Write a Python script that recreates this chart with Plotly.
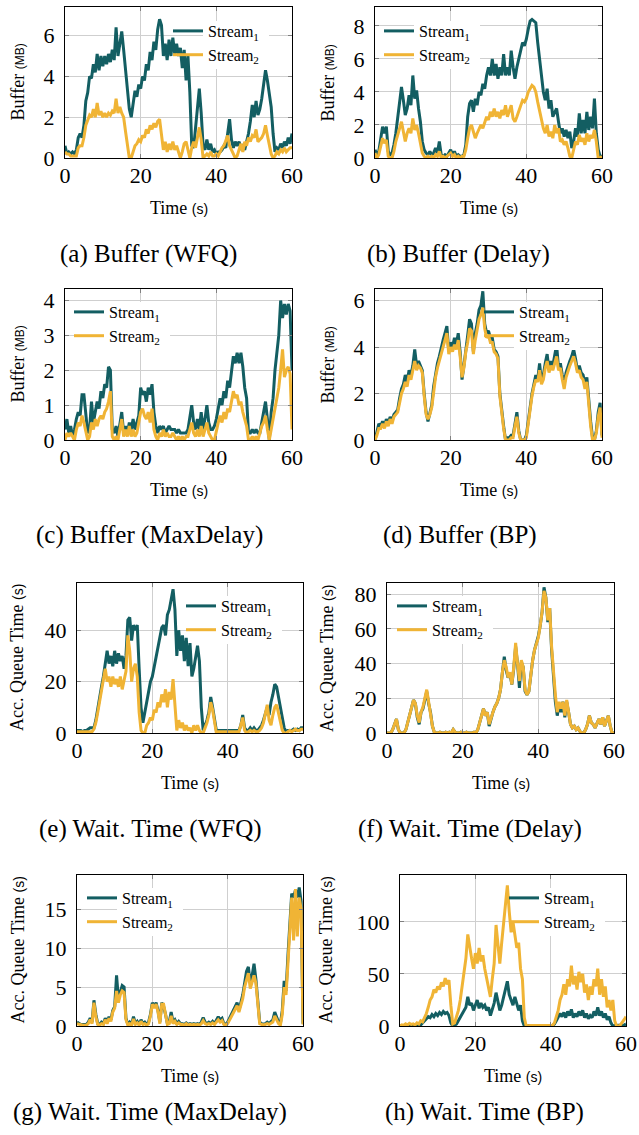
import plotly.graph_objects as go

# ---------------- data (time step 0.5 s, 0..60 s) ----------------
time = [i * 0.5 for i in range(121)]

wfq_buf_s1 = [0.6,0.2,0.3,0.2,0.3,0.2,0.4,1.0,1.2,1.0,
              1.6,2.8,3.2,4.0,3.9,4.6,4.2,5.1,4.3,5.0,
              4.5,5.0,4.6,5.1,4.7,5.3,4.8,6.4,5.0,5.6,
              6.2,5.3,4.2,3.4,2.4,2.0,2.6,3.3,3.0,3.6,
              3.4,4.0,3.8,4.6,4.3,5.2,4.8,5.7,5.3,6.3,
              6.8,6.5,5.0,5.6,4.8,5.8,5.0,5.9,5.1,5.6,
              5.0,5.4,4.4,5.3,3.8,5.0,3.2,0.6,0.5,1.5,
              2.5,3.4,2.2,0.6,0.4,0.9,0.4,0.7,0.3,0.4,
              0.2,0.3,0.3,0.4,0.6,0.5,1.2,1.9,0.9,0.5,
              0.8,0.6,0.8,0.5,0.6,0.4,0.8,1.2,1.8,2.6,
              2.0,2.8,2.1,2.4,2.9,3.5,4.3,3.8,3.2,2.5,
              1.2,0.3,0.5,0.4,0.7,0.5,0.8,0.6,1.0,0.7,
              1.2]
wfq_buf_s2 = [0.3,0.2,0.2,0.1,0.1,0.1,0.1,0.5,0.6,0.6,
              1.0,1.6,1.9,2.1,2.0,2.4,2.0,2.7,2.1,2.3,
              2.0,2.2,2.0,2.2,2.1,2.3,2.2,2.9,2.2,2.5,
              2.2,2.0,1.3,0.5,0.0,0.0,0.3,0.6,0.7,0.9,
              0.8,1.1,1.0,1.4,1.2,1.6,1.4,1.7,1.5,1.8,
              1.9,1.0,0.4,0.8,0.3,0.7,0.4,0.8,0.4,0.6,
              0.3,0.0,0.3,0.7,0.8,0.3,0.0,0.5,0.8,0.5,
              1.0,1.5,0.9,0.0,0.1,0.2,0.1,0.3,0.1,0.1,
              0.2,0.1,0.3,0.5,0.6,0.9,1.1,0.6,0.4,0.2,
              0.0,0.1,0.4,0.7,0.3,0.8,0.6,1.0,0.8,1.1,
              1.0,1.4,0.8,0.9,1.0,1.2,1.6,1.1,0.6,0.2,
              0.0,0.1,0.3,0.2,0.4,0.3,0.5,0.3,0.4,0.5,
              0.5]

delay_buf_s1 = [0.5,0.2,0.4,1.2,1.9,1.5,1.9,0.4,0.2,0.3,
                0.8,1.5,2.5,3.4,4.3,3.5,2.6,3.0,3.8,3.2,
                5.0,3.6,4.1,3.0,2.2,1.0,0.5,0.3,0.2,0.4,
                0.2,0.3,0.6,0.3,1.0,0.2,0.1,0.2,0.1,0.3,
                0.5,0.2,0.4,0.1,0.2,0.1,0.1,0.2,0.8,2.5,
                3.3,3.5,2.8,3.6,3.2,4.0,3.8,4.5,4.2,5.0,
                5.5,5.0,6.0,5.0,5.7,4.8,5.5,5.0,6.3,5.0,
                5.5,5.0,6.5,5.5,4.8,5.5,6.0,6.5,7.0,6.8,
                7.2,7.8,8.3,8.4,8.3,8.2,7.0,6.0,5.0,4.0,
                3.5,4.2,3.0,3.5,2.5,2.8,3.0,2.2,1.5,1.8,
                1.3,1.7,1.2,1.6,0.6,1.0,1.8,1.3,2.7,1.5,
                2.3,1.5,2.8,1.7,2.5,1.8,3.6,1.5,0.5,0.1,
                0.1]
delay_buf_s2 = [0.3,0.0,0.2,0.8,1.2,0.9,1.1,0.1,0.0,0.0,
                0.4,1.0,1.5,1.8,2.2,1.6,1.0,1.5,1.8,1.5,
                2.4,1.7,2.0,1.5,0.8,0.3,0.1,0.0,0.1,0.0,
                0.1,0.0,0.2,0.1,0.4,0.0,0.1,0.0,0.1,0.2,
                0.3,0.1,0.2,0.0,0.1,0.0,0.1,0.1,0.5,1.2,
                1.8,2.0,1.5,1.2,1.5,1.8,2.0,1.8,2.2,2.5,
                2.3,2.8,2.5,3.0,2.5,2.8,2.4,2.9,2.6,3.2,
                2.5,2.8,3.2,2.4,2.2,2.5,2.8,3.2,3.5,3.4,
                3.6,4.0,4.2,4.4,4.3,4.0,3.4,2.8,2.2,1.8,
                1.5,2.0,1.3,1.6,1.2,2.0,1.5,1.8,1.0,1.1,
                0.8,1.0,0.6,0.1,0.0,0.6,1.0,0.8,1.4,1.0,
                1.2,0.8,1.5,1.0,1.4,1.2,1.7,1.0,0.0,0.0,
                0.1]

maxdelay_buf_s1 = [0.3,0.6,0.2,0.4,0.1,0.3,0.6,0.8,0.7,1.3,
                   1.3,0.7,0.2,0.3,1.1,0.5,0.8,1.1,0.9,1.4,
                   1.2,1.6,1.5,2.1,2.0,0.3,0.2,0.4,0.1,0.5,
                   0.8,0.2,0.4,0.2,0.5,0.3,0.6,0.3,0.5,0.7,
                   1.5,1.3,1.4,1.1,1.5,1.3,1.6,0.8,0.4,0.2,
                   0.4,0.3,0.4,0.2,0.3,0.4,0.3,0.3,0.3,0.2,
                   0.3,0.2,0.2,0.2,0.2,0.3,0.6,1.0,0.5,0.3,
                   0.6,0.3,0.8,0.3,0.6,1.0,0.5,0.3,0.3,0.4,
                   0.6,0.9,1.2,1.0,1.4,1.2,1.7,1.5,2.0,2.4,
                   2.2,2.5,2.2,2.5,2.1,1.5,1.2,0.2,0.2,0.3,
                   0.2,0.3,0.2,0.2,0.5,0.8,1.1,0.6,0.0,0.8,
                   1.2,2.0,2.5,3.0,4.0,3.5,3.9,3.6,3.9,3.7,
                   2.0]
maxdelay_buf_s2 = [0.0,0.2,0.1,0.2,0.1,0.0,0.3,0.5,0.4,0.7,
                   0.5,0.2,0.0,0.1,0.5,0.3,0.6,0.4,0.6,0.7,
                   0.6,0.8,0.9,1.1,1.4,0.1,0.0,0.1,0.0,0.3,
                   0.6,0.1,0.3,0.1,0.4,0.1,0.3,0.1,0.2,0.5,
                   0.8,0.9,0.7,0.6,0.8,0.5,0.9,0.3,0.1,0.0,
                   0.2,0.1,0.3,0.1,0.2,0.1,0.1,0.2,0.1,0.0,
                   0.1,0.0,0.1,0.0,0.1,0.1,0.3,0.5,0.2,0.1,
                   0.3,0.1,0.4,0.1,0.3,0.5,0.2,0.1,0.0,0.0,
                   0.3,0.5,0.7,0.5,0.8,0.6,0.9,0.8,1.1,1.4,
                   1.2,1.3,1.0,1.1,0.8,0.6,0.4,0.0,0.0,0.1,
                   0.0,0.1,0.0,0.2,0.4,0.5,0.7,0.3,0.0,0.3,
                   0.6,1.0,1.2,1.5,2.0,2.6,1.8,2.0,2.1,1.9,
                   0.3]

bp_buf_s1 = [0.0,0.3,0.7,0.6,0.8,0.6,0.9,0.7,1.0,0.8,
             1.1,1.2,1.3,1.8,2.2,2.4,2.8,2.5,3.0,2.8,
             3.2,3.9,3.2,3.4,3.2,3.0,2.0,1.2,0.8,1.1,
             1.5,2.3,2.8,3.3,3.6,4.0,4.3,4.6,4.9,3.8,
             4.2,4.0,4.4,4.1,4.6,3.8,2.6,3.2,4.0,4.5,
             5.2,5.0,3.8,4.6,5.0,5.6,5.8,6.4,5.0,4.6,
             4.7,4.4,4.4,3.9,3.8,3.6,2.0,1.2,0.6,0.0,
             0.1,0.1,0.2,0.2,0.8,1.2,0.4,0.0,0.0,0.0,
             0.2,0.8,1.5,2.0,2.4,2.8,2.6,3.3,2.5,2.8,
             3.3,3.7,3.0,3.4,3.2,3.6,4.1,3.1,3.3,2.8,
             2.4,2.9,3.2,3.4,3.6,3.9,3.5,3.0,3.2,2.9,
             2.8,2.4,2.7,1.6,0.8,0.1,0.0,0.4,1.2,1.6,
             0.2]
bp_buf_s2 = [0.0,0.2,0.5,0.5,0.7,0.5,0.8,0.6,0.9,0.7,
             1.0,1.1,1.2,1.6,2.0,2.2,2.5,2.3,2.8,2.6,
             3.0,3.4,3.0,3.2,3.1,2.9,1.9,1.1,0.9,1.1,
             1.4,2.2,2.7,3.1,3.4,3.8,4.0,4.3,4.6,3.7,
             4.0,3.8,4.1,3.9,4.3,3.6,2.7,3.1,3.8,4.2,
             4.8,4.7,3.7,4.3,4.7,5.2,5.4,5.7,4.8,4.4,
             4.5,4.2,4.2,3.8,3.7,3.5,1.9,1.1,0.5,0.0,
             0.0,0.0,0.1,0.1,0.6,1.0,0.3,0.0,0.0,0.0,
             0.1,0.7,1.4,1.9,2.3,2.6,2.5,3.0,2.4,2.6,
             3.1,3.4,2.9,3.2,3.0,3.3,3.6,3.0,3.1,2.6,
             2.2,2.7,3.0,3.2,3.4,3.6,3.3,2.9,3.0,2.7,
             2.6,2.2,2.5,1.4,0.6,0.0,0.0,0.3,1.0,1.4,
             0.1]

wfq_wait_s1 = [1,1,1,0.5,1,1,1.5,2,2,2,
               5,10,14,18,22,28,32,27,30,26,
               32,27,31,28,30,25,30,44,45,36,
               42,40,42,25,10,4,8,12,17,20,
               22,26,30,34,38,41,42,38,46,48,
               52,56,48,30,40,32,38,28,37,26,
               35,22,25,30,34,28,10,1,3,5,
               8,14,10,6,1,1,1,1,1,1,
               1,1,1,1,1,1,1,3,7,2,
               1,1,2,1,2,1,1,2,3,5,
               8,10,7,12,15,19,18,14,10,5,
               2,0.5,1,1,1,1.5,1,1.5,1,2,
               2]
wfq_wait_s2 = [0.5,0.5,0.5,0.5,0.5,0.5,0.5,0.5,0.5,1.5,
               4,8,12,16,20,25,20,22,18,22,
               19,21,18,22,17,20,24,38,32,20,
               25,27,22,8,1,0,0,3,4,6,
               5,9,8,12,10,15,12,17,10,16,
               13,21,10,1,5,2,4,1,3,1,
               2,0,3,1,3,1,0,0,2,4,
               7,12,9,4,0,0.5,0.5,0.5,0.5,0.5,
               0.5,0.5,0.5,0.5,0.5,0.5,0.5,3,6,1,
               0,0.5,1,0.5,1,0.5,0.5,1,2,4,
               8,11,5,3,7,10,11,8,4,1,
               0,0,0.5,1,0.5,1,1.5,1,1,1.5,
               1.5]

delay_wait_s1 = [0,0,0,2,5,8,2,0,0,0,
                 2,6,10,15,19,17,9,5,12,14,
                 20,24,17,12,4,0.5,0,0,0.5,0,
                 0,0.5,0,0.5,0,2,0.5,0,0,0.5,
                 0,0,0.5,0,0,0,0.5,0,2,6,
                 10,14,10,12,4,9,12,15,17,20,
                 25,35,44,36,32,34,28,37,50,40,
                 26,41,38,24,22,24,35,42,48,52,
                 56,62,70,84,78,64,72,48,33,18,
                 10,17,12,18,9,18,12,5,3,4,
                 2,3,1,0,0,2,5,10,6,5,
                 3,6,8,5,9,4,7,10,4,0,
                 0]
delay_wait_s2 = [0,0,0,2,5,8,2,0,0,0,
                 2,6,10,15,19,17,10,6,12,15,
                 20,25,18,12,4,0.5,0,0,0.5,0,
                 0,0.5,0,0.5,0,2,0.5,0,0,0.5,
                 0,0,0.5,0,0,0,0.5,0,2,6,
                 10,14,10,12,5,9,12,15,17,20,
                 25,35,42,38,32,35,28,38,52,40,
                 30,42,38,25,22,24,35,42,48,52,
                 55,62,70,82,78,65,72,50,35,22,
                 12,18,14,18,10,19,12,5,3,4,
                 2,3,1,0,0,2,5,10,6,5,
                 3,6,8,5,9,4,7,10,4,0,
                 0]

maxdelay_wait_s1 = [0.5,0.3,0.2,0.2,0.2,0.2,0.5,1.0,0.5,3.3,
                    1.5,0.3,0.2,0.5,0.3,1.0,0.5,1.2,0.8,2.0,
                    2.5,6.5,3.5,4.5,5.2,5.0,1.0,0.2,0.5,0.2,
                    1.2,0.3,0.6,0.2,0.8,0.3,0.5,0.2,0.5,1.5,
                    3.0,2.5,3.0,2.0,0.5,3.0,2.5,1.5,0.3,0.5,
                    1.8,0.5,0.8,0.3,0.6,0.3,0.3,0.2,0.4,0.2,
                    0.3,0.2,0.3,0.2,0.3,0.2,0.5,1.1,0.5,0.3,
                    0.5,0.3,0.6,0.3,0.8,1.2,0.8,1.0,0.3,0.2,
                    0.5,1.0,1.5,2.0,2.5,3.0,2.0,3.0,4.0,5.5,
                    7.0,7.6,5.5,6.5,8.0,6.0,3.0,0.5,0.3,0.2,
                    0.3,0.5,0.3,0.5,0.8,1.8,1.0,0.5,0.3,2.0,
                    5.8,4.5,9.0,14.0,17.0,16.5,17.5,16.5,17.8,16.0,
                    0.3]
maxdelay_wait_s2 = [0.3,0.2,0.1,0.1,0.1,0.1,0.3,0.8,0.3,3.0,
                    1.2,0.2,0.1,0.3,0.2,0.8,0.3,1.0,0.6,1.8,
                    2.3,4.5,3.0,4.0,4.5,4.3,0.8,0.1,0.3,0.1,
                    0.9,0.2,0.4,0.1,0.6,0.2,0.3,0.1,0.3,1.3,
                    2.8,2.3,2.8,1.8,0.3,2.8,2.8,1.3,0.2,0.3,
                    1.3,0.3,0.6,0.2,0.4,0.2,0.2,0.1,0.3,0.1,
                    0.2,0.1,0.2,0.1,0.2,0.1,0.3,0.7,0.3,0.2,
                    0.3,0.2,0.4,0.2,0.5,0.8,0.5,0.7,0.2,0.1,
                    0.3,0.8,1.2,1.7,2.2,2.6,1.8,2.6,3.5,5.0,
                    6.0,6.8,4.8,5.8,6.5,5.5,2.5,0.3,0.2,0.1,
                    0.2,0.3,0.2,0.3,0.5,1.3,0.8,0.3,0.1,1.5,
                    5.0,4.0,8.0,13.0,16.5,11.0,17.6,11.5,16.5,15.0,
                    0.2]

bp_wait_s1 = [0,0.5,0.3,0.6,0.3,0.8,0.5,1.0,0.5,1.0,
              0.5,1,3,5,7,9,8,11,9,12,
              10,13,11,14,12,13,10,3,0,0.5,
              2,5,8,12,15,18,28,20,22,15,
              20,25,17,22,18,20,15,18,10,15,
              22,32,22,15,20,28,35,43,30,25,
              20,28,22,15,20,5,0,0.5,0.3,0.5,
              0.3,0.5,0.3,0.5,0.3,0.5,0.3,0.5,0.3,0.5,
              0.3,0.5,2,5,8,12,9,13,8,14,
              10,16,8,12,9,14,10,15,8,12,
              7,10,8,14,10,18,10,14,8,12,
              6,9,3,0,0.5,0.5,0.5,0.5,0.5,1,
              2]
bp_wait_s2 = [0,1,0.5,2,1,2.5,1.5,2,1,3,
              2,5,4,8,12,18,25,28,35,32,
              38,35,42,38,46,40,44,20,2,3,
              8,15,25,40,55,65,88,75,65,55,
              70,60,75,62,68,55,45,38,28,45,
              60,97,75,60,80,100,118,135,110,90,
              100,85,75,80,55,45,8,0,0.5,0.5,
              0.5,0.5,0.5,0.5,0.5,0.5,0.5,0.5,0.5,0.5,
              0.5,0.5,3,8,15,25,30,40,30,45,
              38,58,40,48,35,52,42,50,32,40,
              25,38,30,45,38,55,30,45,28,38,
              18,25,15,25,5,0,0,1,3,6,
              9]

x_ticks = [0, 20, 40, 60]
series_names = ["Stream<sub>1</sub>", "Stream<sub>2</sub>"]
captions = ["(a) Buffer (WFQ)", "(b) Buffer (Delay)", "(c) Buffer (MaxDelay)", "(d) Buffer (BP)",
            "(e) Wait. Time (WFQ)", "(f) Wait. Time (Delay)", "(g) Wait. Time (MaxDelay)", "(h) Wait. Time (BP)"]

# ---------------- layout geometry (pixels) ----------------
W, H = 639, 1135
SERIF = "Liberation Serif"
C1, C2 = "#135e62", "#f0b435"

panels = [
    dict(s1=wfq_buf_s1, s2=wfq_buf_s2, box=(65, 292, 7, 158), yr=7.4, yt=[0, 2, 4, 6], kind="buf", leg=(207, 33), cap=(148, 254), ytx=17),
    dict(s1=delay_buf_s1, s2=delay_buf_s2, box=(375, 602, 7, 158), yr=9.15, yt=[0, 2, 4, 6, 8], kind="buf", leg=(418, 33), cap=(458, 254), ytx=327),
    dict(s1=maxdelay_buf_s1, s2=maxdelay_buf_s2, box=(65, 292, 289, 440), yr=4.33, yt=[0, 1, 2, 3, 4], kind="buf", leg=(108, 314), cap=(149, 535), ytx=17),
    dict(s1=bp_buf_s1, s2=bp_buf_s2, box=(375, 602, 289, 440), yr=6.5, yt=[0, 2, 4, 6], kind="buf", leg=(518, 314), cap=(460, 535), ytx=327),
    dict(s1=wfq_wait_s1, s2=wfq_wait_s2, box=(77, 303, 583, 733), yr=58.4, yt=[0, 20, 40], kind="wait", leg=(220, 608), cap=(150, 829), ytx=17),
    dict(s1=delay_wait_s1, s2=delay_wait_s2, box=(387, 614, 583, 733), yr=86.5, yt=[0, 20, 40, 60, 80], kind="wait", leg=(431, 608), cap=(470, 829), ytx=327),
    dict(s1=maxdelay_wait_s1, s2=maxdelay_wait_s2, box=(77, 303, 875, 1026), yr=19.4, yt=[0, 5, 10, 15], kind="wait", leg=(121, 900), cap=(150, 1112), ytx=17),
    dict(s1=bp_wait_s1, s2=bp_wait_s2, box=(400, 626, 875, 1026), yr=145, yt=[0, 50, 100], kind="wait", leg=(543, 900), cap=(484, 1112), ytx=325),
]

def fx(px):
    return px / W

def fy(py):
    return 1 - py / H

fig = go.Figure()
layout = dict(
    width=W, height=H, margin=dict(l=0, r=0, t=0, b=0, autoexpand=False),
    paper_bgcolor="white", plot_bgcolor="white",
    font=dict(family=SERIF, size=16, color="black"),
    annotations=[], shapes=[],
)

unit_s = "<span style='font-family:Liberation Sans;font-size:14px'>(s)</span>"
unit_mb = "<span style='font-family:Liberation Sans;font-size:12px'>(MB)</span>"

for i, p in enumerate(panels, start=1):
    sfx = "" if i == 1 else str(i)
    leg = "legend" if i == 1 else f"legend{i}"
    x0, x1, y0, y1 = p["box"]
    for j, (vals, col) in enumerate([(p["s1"], C1), (p["s2"], C2)]):
        fig.add_trace(go.Scatter(
            x=time, y=vals, mode="lines", name=series_names[j],
            line=dict(color=col, width=3),
            xaxis="x" + sfx, yaxis="y" + sfx,
            legend=leg, legendgroup=f"p{i}s{j}", showlegend=True,
        ))
    axis_common = dict(
        showline=True, linecolor="black", linewidth=1, mirror="ticks",
        ticks="inside", ticklen=4, tickcolor="#808080", automargin=False,
        showgrid=True, gridcolor="#cfcfcf", gridwidth=1, zeroline=False,
        tickfont=dict(family=SERIF, size=22, color="black"),
    )
    layout["xaxis" + sfx] = dict(axis_common, domain=[fx(x0), fx(x1)], anchor="y" + sfx,
                                 range=[0, 60], tickvals=x_ticks, ticklabelstandoff=-2)
    layout["yaxis" + sfx] = dict(axis_common, domain=[fy(y1), fy(y0)], anchor="x" + sfx,
                                 range=[0, p["yr"]], tickvals=p["yt"], ticklabelstandoff=5)
    lx, ly = p["leg"]
    layout[leg] = dict(x=fx(lx - 39), y=fy(ly - 19), xanchor="left", yanchor="top",
                       xref="paper", yref="paper",
                       bgcolor="rgba(0,0,0,0)", borderwidth=0, tracegroupgap=12,
                       font=dict(family=SERIF, size=16, color="black"),
                       itemwidth=30, traceorder="normal")
    # white background behind the legend labels (as in the original)
    layout["shapes"].append(dict(
        type="rect", xref="paper", yref="paper", layer="above",
        x0=fx(lx - 4), x1=fx(lx + 62), y0=fy(ly + 36), y1=fy(ly - 12),
        fillcolor="white", line=dict(width=0)))
    # x title
    layout["annotations"].append(dict(
        text="Time " + unit_s, x=fx((x0 + x1) / 2), y=fy(y1 + 50), xref="paper", yref="paper",
        showarrow=False, font=dict(family=SERIF, size=18), xanchor="center", yanchor="middle"))
    # y title
    ytitle = ("Buffer " + unit_mb) if p["kind"] == "buf" else ("Acc. Queue Time " + unit_s)
    layout["annotations"].append(dict(
        text=ytitle, x=fx(p["ytx"]), y=fy((y0 + y1) / 2), xref="paper", yref="paper",
        showarrow=False, textangle=-90, font=dict(family=SERIF, size=18),
        xanchor="center", yanchor="middle"))
    # caption
    cx, cy = p["cap"]
    layout["annotations"].append(dict(
        text=captions[i - 1], x=fx(cx), y=fy(cy), xref="paper", yref="paper",
        showarrow=False, font=dict(family=SERIF, size=25), xanchor="center", yanchor="middle"))

fig.update_layout(**layout)
fig.write_html("out.html", config={"displayModeBar": False},
               post_script="document.body.style.margin='0px';")
